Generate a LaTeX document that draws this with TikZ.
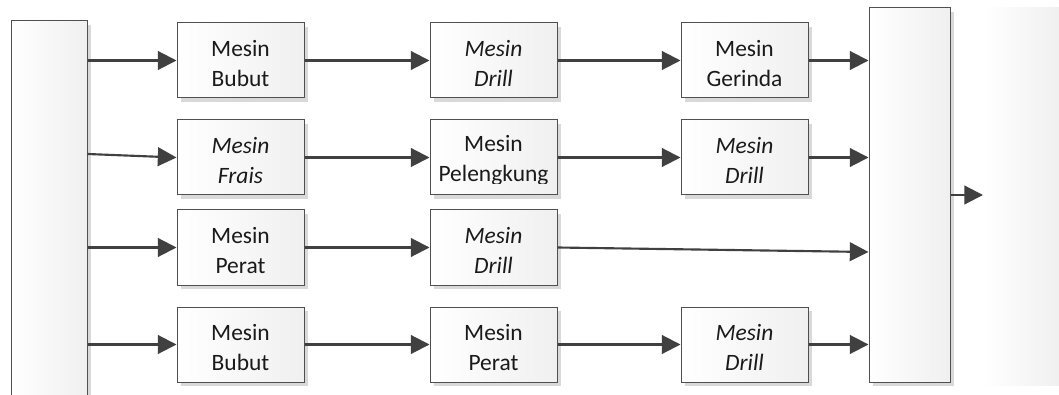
\documentclass[tikz,border=0pt]{standalone}
\usepackage{fontspec}
\setmainfont{Carlito}
\usetikzlibrary{arrows.meta,calc}
\definecolor{edge}{HTML}{505050}
\definecolor{wire}{HTML}{404040}
\definecolor{shade}{HTML}{D9D9D9}
\definecolor{ink}{HTML}{1A1A1A}
\begin{document}
\begin{tikzpicture}[x=0.75pt,y=-0.75pt,
  machine/.style={draw=edge, line width=0.75pt, inner sep=0pt,
    left color=white, right color=gray!12,
    preaction={fill=shade, transform canvas={xshift=3pt,yshift=-3pt}},
    minimum width=95.25pt, minimum height=56.25pt},
  caption/.style={font=\fontsize{17.6}{22.5}\selectfont, text=ink,
    align=center, inner sep=0pt, yshift=-2.5pt},
  bar/.style={draw=edge, line width=0.75pt, inner sep=0pt,
    left color=white, right color=gray!12,
    preaction={fill=shade, transform canvas={xshift=3pt,yshift=-3pt}}},
  flow/.style={draw=wire, line width=1.6pt, -{Triangle[length=14pt,width=14pt]}}]
\clip (0,0) rectangle (1059,395);
\fill[white] (0,0) rectangle (1059,395);

% side bars
\node[bar, minimum width=57pt, minimum height=291.75pt] (L) at (49,215.5) {};
\node[bar, minimum width=60.75pt, minimum height=280.5pt] (R) at (909.5,195) {};

% faint panel at the right
\fill[shade] (986,12) rectangle (1059,388);
\shade[left color=white, right color=gray!12] (983,8) rectangle (1059,385);

% machine boxes
\node[machine] (b11) at (240.5,60.5) {};
\node[machine] (b12) at (493.5,60.5) {};
\node[machine] (b13) at (744.5,60.5) {};
\node[machine] (b21) at (240.5,157.5) {};
\node[machine] (b22) at (493.5,157.5) {};
\node[machine] (b23) at (744.5,157.5) {};
\node[machine] (b31) at (240.5,247.5) {};
\node[machine] (b32) at (493.5,247.5) {};
\node[machine] (b41) at (240.5,344.5) {};
\node[machine] (b42) at (493.5,344.5) {};
\node[machine] (b43) at (744.5,344.5) {};

% box captions
\node[caption] (t11) at (b11) {Mesin\\Bubut};
\node[caption] (t12) at (b12) {\itshape Mesin\\\itshape Drill};
\node[caption] (t13) at (b13) {Mesin\\Gerinda};
\node[caption] (t21) at (b21) {\itshape Mesin\\\itshape Frais};
\begin{scope}
  \clip (431,121) rectangle (556,184);
  \node[caption] (t22) at (b22) {Mesin\\Pelengkung};
\end{scope}
\node[caption] (t23) at (b23) {\itshape Mesin\\\itshape Drill};
\node[caption] (t31) at (b31) {Mesin\\Perat};
\node[caption] (t32) at (b32) {\itshape Mesin\\\itshape Drill};
\node[caption] (t41) at (b41) {Mesin\\Bubut};
\node[caption] (t42) at (b42) {Mesin\\Perat};
\node[caption] (t43) at (b43) {\itshape Mesin\\\itshape Drill};

\coordinate (s2) at (87,154);
\coordinate (out) at (983,195);

% row 1
\draw[flow] (L.east |- b11.west) -- (b11.west);
\draw[flow] (b11) -- (b12);
\draw[flow] (b12) -- (b13);
\draw[flow] (b13.east) -- (R.west |- b13.east);
% row 2
\draw[flow] (L.east |- s2) -- (b21.west);
\draw[flow] (b21) -- (b22);
\draw[flow] (b22) -- (b23);
\draw[flow] (b23.east) -- (R.west |- b23.east);
% row 3
\draw[flow] (L.east |- b31.west) -- (b31.west);
\draw[flow] (b31) -- (b32);
\draw[flow] (b32.east) -- ($(R.west |- b32.east)+(0,4.5)$);
% row 4
\draw[flow] (L.east |- b41.west) -- (b41.west);
\draw[flow] (b41) -- (b42);
\draw[flow] (b42) -- (b43);
\draw[flow] (b43.east) -- (R.west |- b43.east);
% output
\draw[flow] (R.east |- out) -- (out);
\end{tikzpicture}
\end{document}
